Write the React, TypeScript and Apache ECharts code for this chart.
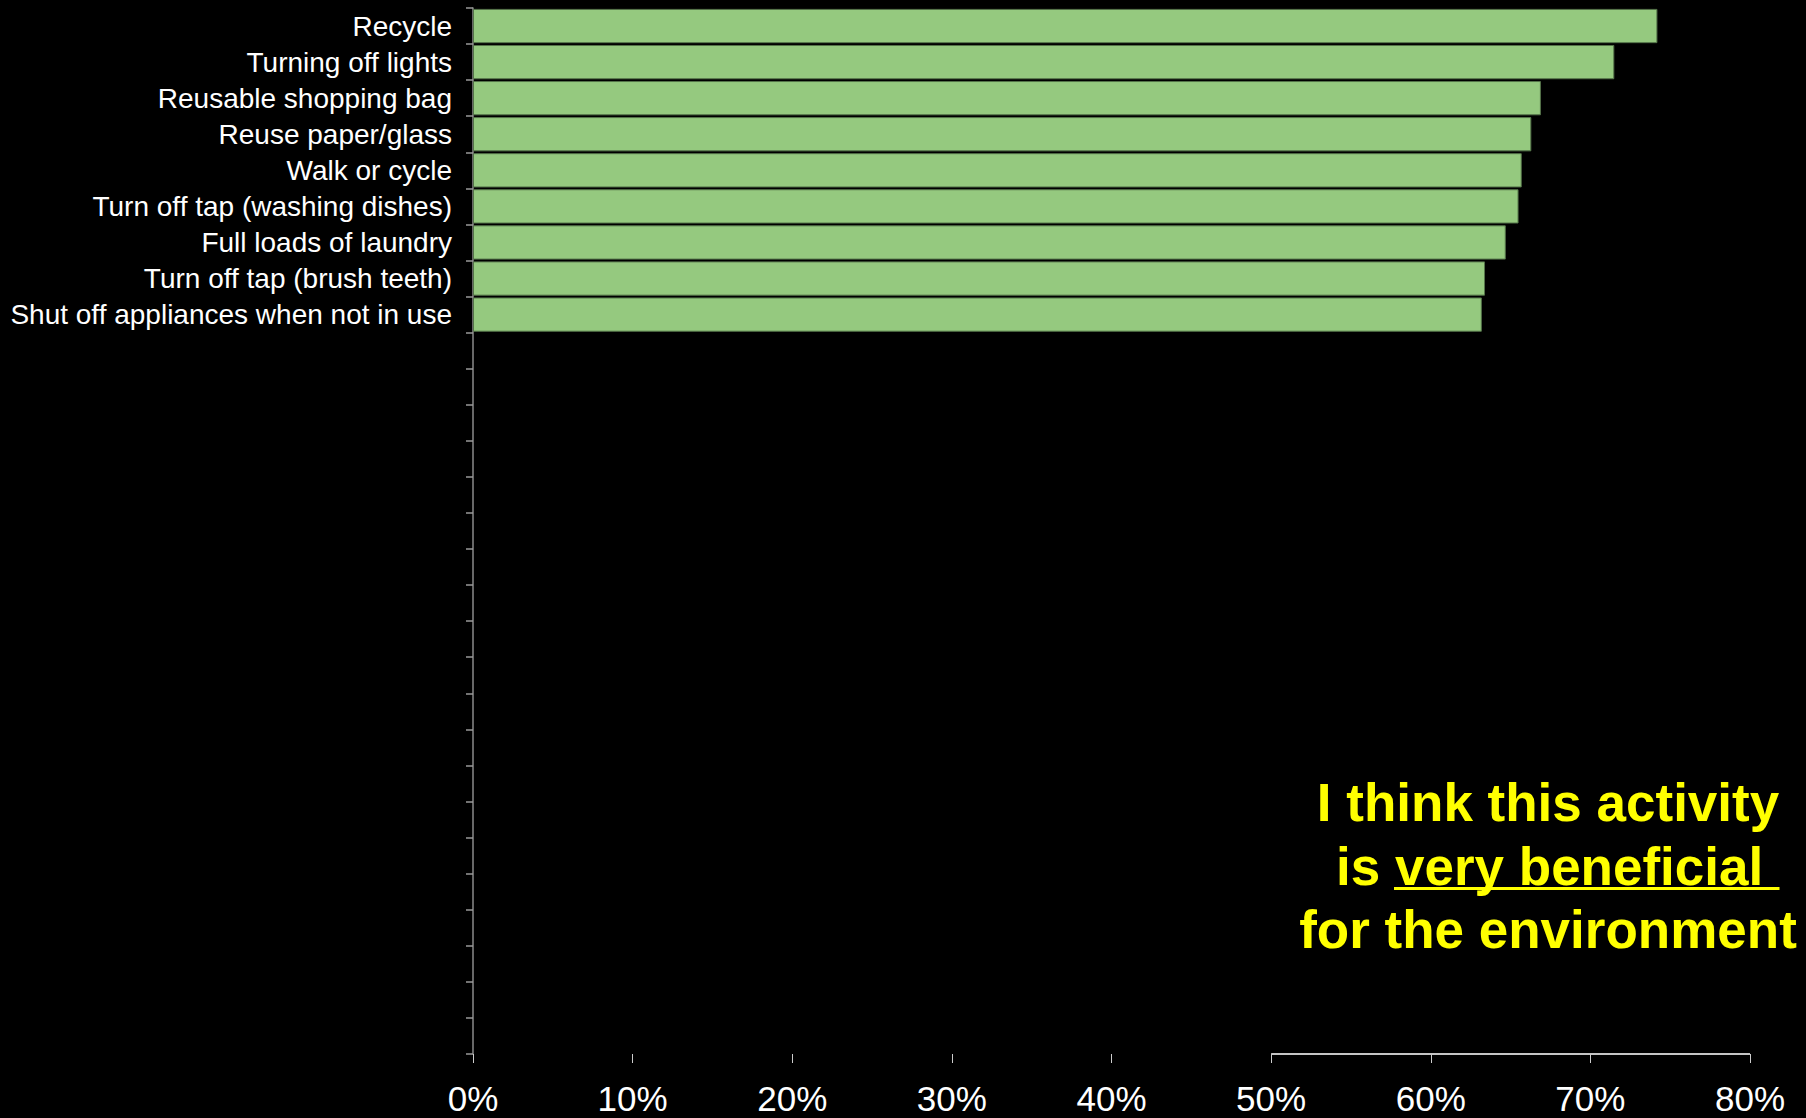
import React, { useEffect, useRef } from "react";
import * as echarts from "echarts";

const CATEGORIES = [
  "Recycle",
  "Turning off lights",
  "Reusable shopping bag",
  "Reuse paper/glass",
  "Walk or cycle",
  "Turn off tap (washing dishes)",
  "Full loads of laundry",
  "Turn off tap (brush teeth)",
  "Shut off appliances when not in use",
];
const VALUES = [74.2, 71.5, 66.9, 66.3, 65.7, 65.5, 64.7, 63.4, 63.2];
const X_TICKS = [0, 10, 20, 30, 40, 50, 60, 70, 80];
const SLOT_COUNT = 29;
const NOTE_LINES = ["I think this activity", "is very beneficial ", "for the environment"];

export default function App() {
  const ref = useRef<HTMLDivElement>(null);
  useEffect(() => {
    document.body.style.margin = "0";
    document.body.style.background = "#000";
    const chart = echarts.init(ref.current!, null, { renderer: "svg" });
    const font = "'Liberation Sans', Arial, sans-serif";
    chart.setOption({
      animation: false,
      backgroundColor: "#000000",
      grid: { left: 473, top: 8, right: 56, bottom: 64, containLabel: false },
      xAxis: {
        type: "value",
        min: X_TICKS[0],
        max: X_TICKS[X_TICKS.length - 1],
        interval: 10,
        splitLine: { show: false },
        axisLine: { show: false },
        axisTick: { show: true, length: 9, lineStyle: { color: "#cccccc", width: 1 } },
        axisLabel: {
          color: "#ffffff",
          fontSize: 35,
          fontFamily: font,
          margin: 27,
          formatter: (v: number) => `${v}%`,
        },
      },
      yAxis: {
        type: "category",
        data: CATEGORIES,
        max: SLOT_COUNT - 1,
        inverse: true,
        axisLine: { show: true, lineStyle: { color: "#8a8a8a", width: 1.5 } },
        axisTick: { show: true, length: 7, lineStyle: { color: "#9a9a9a", width: 1.5 } },
        splitLine: { show: false },
        axisLabel: {
          color: "#ffffff",
          fontSize: 28,
          fontFamily: font,
          margin: 21,
          interval: 0,
        },
      },
      series: [
        {
          type: "bar",
          data: VALUES,
          barCategoryGap: "5%",
          itemStyle: { color: "#95c97f", borderColor: "#55744a", borderWidth: 1 },
        },
      ],
    });
    const x50 = chart.convertToPixel({ xAxisIndex: 0 }, 50) as number;
    const x80 = chart.convertToPixel({ xAxisIndex: 0 }, 80) as number;
    const yBase = 1054;
    const textStyle = {
      fill: "#ffff00",
      font: `bold 53px ${font}`,
      textAlign: "center",
      textVerticalAlign: "middle",
    };
    chart.setOption({
      graphic: [
        {
          type: "line",
          shape: { x1: x50, y1: yBase, x2: x80, y2: yBase },
          style: { stroke: "#c4c4c4", lineWidth: 2 },
        },
        { type: "text", x: 1548, y: 802.6, style: { ...textStyle, text: NOTE_LINES[0] } },
        { type: "text", x: 1557, y: 866, style: { ...textStyle, text: NOTE_LINES[1] } },
        { type: "text", x: 1548, y: 929.6, style: { ...textStyle, text: NOTE_LINES[2] } },
        {
          type: "line",
          shape: { x1: 1394, y1: 888.5, x2: 1779.5, y2: 888.5 },
          style: { stroke: "#ffff00", lineWidth: 3 },
        },
      ],
    });
    return () => chart.dispose();
  }, []);
  return <div ref={ref} style={{ width: 1806, height: 1118, background: "#000" }} />;
}
